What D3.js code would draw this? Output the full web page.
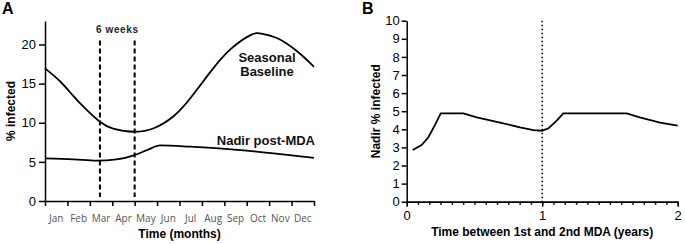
<!DOCTYPE html>
<html>
<head>
<meta charset="utf-8">
<script src="https://cdn.jsdelivr.net/npm/d3@7"></script>
<style>
  body { margin: 0; background: #fff; }
  svg { display: block; font-family: "Liberation Sans", Arial, sans-serif; }
</style>
</head>
<body>
<svg id="chart" width="685" height="244"></svg>
<script>
// panel A data
let monthLabels = ['Jan', 'Feb', 'Mar', 'Apr', 'May', 'Jun', 'Jul', 'Aug', 'Sep', 'Oct', 'Nov', 'Dec'];
let seasonalMonths = [0, 0.67, 1.27, 1.87, 2.42, 3.04, 4.0, 4.85, 5.72, 6.5, 7.38, 8.28, 9.17, 9.65, 10.37, 11.26, 12];
let seasonalValues = [16.95, 15.3, 13.4, 11.6, 10.2, 9.25, 8.85, 9.3, 10.8, 13.2, 16.5, 19.4, 21.2, 21.4, 20.8, 19.1, 17.15];
let nadirMonths = [0, 1.27, 2.31, 3.2, 4.0, 4.55, 5.14, 6.48, 8.72, 10.2, 12];
let nadirValues = [5.45, 5.32, 5.15, 5.32, 5.87, 6.5, 7.1, 6.94, 6.5, 6.08, 5.5];
let yTicksA = [0, 5, 10, 15, 20];
let windowMonths = [2.45, 4.0];

// panel B data
let gapYears = [0.044, 0.11, 0.16, 0.209, 0.251, 0.418, 0.517, 0.689, 0.836, 0.935, 0.996, 1.045, 1.107, 1.156, 1.624, 1.72, 1.87, 2.0];
let gapValues = [2.86, 3.13, 3.56, 4.24, 4.88, 4.88, 4.66, 4.37, 4.11, 3.96, 3.92, 4.05, 4.48, 4.88, 4.88, 4.66, 4.37, 4.2];
let yTicksB = [0, 1, 2, 3, 4, 5, 6, 7, 8, 9, 10];
let xTicksB = [0, 1, 2];

let svg = d3.select('#chart');

function styleAxis(g, size) {
  g.selectAll('path, line').attr('stroke', '#000').attr('stroke-width', 1.5);
  g.selectAll('text').attr('font-size', size).attr('fill', '#000')
    .attr('font-family', '"Liberation Sans", Arial, sans-serif');
}

// ---------- panel A ----------
let xA = d3.scaleLinear().domain([0, 12]).range([45, 314]);
let yA = d3.scaleLinear().domain([0, 23]).range([201, 21]);

svg.append('g')
  .attr('transform', 'translate(45,0)')
  .call(d3.axisLeft(yA).tickValues(yTicksA).tickSize(6).tickSizeOuter(0).tickPadding(3))
  .call(g => styleAxis(g, 13));

svg.append('g')
  .attr('transform', `translate(0,${yA(0)})`)
  .call(d3.axisBottom(xA).tickValues(d3.range(13)).tickFormat('').tickSize(5).tickSizeOuter(0))
  .call(g => styleAxis(g, 10));

svg.selectAll('.month')
  .data(monthLabels)
  .enter()
  .append('text')
  .attr('class', 'month')
  .attr('x', (d, i) => xA(i + 0.5))
  .attr('y', 222)
  .attr('text-anchor', 'middle')
  .attr('font-family', '"Open Sans", sans-serif')
  .attr('font-size', 10)
  .attr('fill', '#555')
  .text(d => d);

// 6 weeks window
svg.selectAll('.window')
  .data(windowMonths)
  .enter()
  .append('line')
  .attr('class', 'window')
  .attr('x1', d => xA(d)).attr('x2', d => xA(d))
  .attr('y1', yA(20.5)).attr('y2', yA(0.5))
  .attr('stroke', '#000')
  .attr('stroke-width', 2)
  .attr('stroke-dasharray', '5,3');

svg.append('text')
  .attr('x', (xA(windowMonths[0]) + xA(windowMonths[1])) / 2)
  .attr('y', 33)
  .attr('text-anchor', 'middle')
  .attr('font-size', 10)
  .attr('font-weight', 'bold')
  .attr('letter-spacing', 0.6)
  .attr('fill', '#222')
  .text('6 weeks');

svg.append('path')
  .attr('d', d3.line().curve(d3.curveNatural)(seasonalMonths.map((m, i) => [xA(m), yA(seasonalValues[i])])))
  .attr('fill', 'none')
  .attr('stroke', '#000')
  .attr('stroke-width', 1.8);

svg.append('path')
  .attr('d', d3.line().curve(d3.curveMonotoneX)(nadirMonths.map((m, i) => [xA(m), yA(nadirValues[i])])))
  .attr('fill', 'none')
  .attr('stroke', '#000')
  .attr('stroke-width', 1.8);

svg.append('text')
  .attr('x', 267).attr('y', 62)
  .attr('text-anchor', 'middle')
  .attr('font-size', 13).attr('font-weight', 'bold').attr('fill', '#111')
  .text('Seasonal');
svg.append('text')
  .attr('x', 267).attr('y', 76)
  .attr('text-anchor', 'middle')
  .attr('font-size', 13).attr('font-weight', 'bold').attr('fill', '#111')
  .text('Baseline');
svg.append('text')
  .attr('x', 315).attr('y', 145)
  .attr('text-anchor', 'end')
  .attr('font-size', 13).attr('font-weight', 'bold').attr('fill', '#111')
  .text('Nadir post-MDA');

svg.append('text')
  .attr('transform', `translate(15,${yA(11.5)}) rotate(-90)`)
  .attr('text-anchor', 'middle')
  .attr('font-size', 12).attr('font-weight', 'bold')
  .text('% infected');

svg.append('text')
  .attr('x', (45 + 314) / 2).attr('y', 238)
  .attr('text-anchor', 'middle')
  .attr('font-size', 12).attr('font-weight', 'bold')
  .text('Time (months)');

svg.append('text')
  .attr('x', 2).attr('y', 14)
  .attr('font-size', 16).attr('font-weight', 'bold')
  .text('A');

// ---------- panel B ----------
let xB = d3.scaleLinear().domain([0, 2]).range([406.7, 677.7]);
let yB = d3.scaleLinear().domain([0, 10]).range([201.7, 20.7]);

svg.append('g')
  .attr('transform', `translate(${xB(0)},0)`)
  .call(d3.axisLeft(yB).tickValues(yTicksB).tickSize(5).tickSizeOuter(0).tickPadding(2))
  .call(g => styleAxis(g, 13));

svg.append('g')
  .attr('transform', `translate(0,${yB(0)})`)
  .call(d3.axisBottom(xB).tickValues(d3.range(0, 25).map(d => d / 12)).tickFormat('').tickSize(3).tickSizeOuter(0))
  .call(g => styleAxis(g, 13));

svg.append('g')
  .attr('transform', `translate(0,${yB(0)})`)
  .call(d3.axisBottom(xB).tickValues(xTicksB).tickFormat(d3.format('d')).tickSize(5).tickSizeOuter(0).tickPadding(4))
  .call(g => styleAxis(g, 13));

svg.append('line')
  .attr('x1', xB(1)).attr('x2', xB(1))
  .attr('y1', yB(10)).attr('y2', yB(0))
  .attr('stroke', '#000')
  .attr('stroke-width', 1.5)
  .attr('stroke-dasharray', '1.5,2.5');

svg.append('path')
  .attr('d', d3.line()(gapYears.map((t, i) => [xB(t), yB(gapValues[i])])))
  .attr('fill', 'none')
  .attr('stroke', '#000')
  .attr('stroke-width', 1.8);

svg.append('text')
  .attr('transform', `translate(380,${yB(5)}) rotate(-90)`)
  .attr('text-anchor', 'middle')
  .attr('font-size', 12).attr('font-weight', 'bold')
  .text('Nadir % infected');

svg.append('text')
  .attr('x', xB(1)).attr('y', 236)
  .attr('text-anchor', 'middle')
  .attr('font-size', 12).attr('font-weight', 'bold')
  .text('Time between 1st and 2nd MDA (years)');

svg.append('text')
  .attr('x', 362).attr('y', 14)
  .attr('font-size', 16).attr('font-weight', 'bold')
  .text('B');
</script>
</body>
</html>
